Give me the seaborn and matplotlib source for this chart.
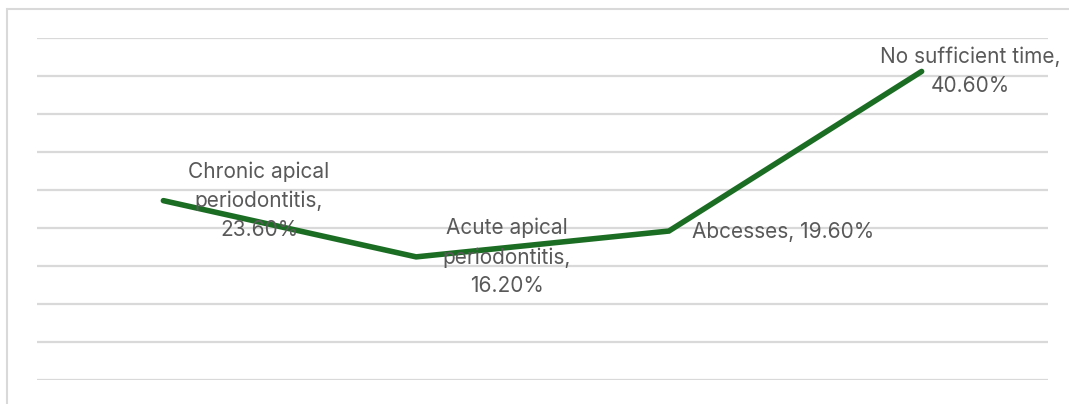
import matplotlib
matplotlib.use("Agg")
import matplotlib.pyplot as plt
import seaborn as sns
import pandas as pd
from matplotlib.patches import Rectangle

categories = ["Chronic apical\nperiodontitis", "Acute apical\nperiodontitis", "Abcesses", "No sufficient time"]
label_text = ["Chronic apical\nperiodontitis,\n23.60%", "Acute apical\nperiodontitis,\n16.20%",
              "Abcesses, 19.60%", "No sufficient time,\n40.60%"]
values = [23.6, 16.2, 19.6, 40.6]

df = pd.DataFrame({"pos": range(len(categories)), "category": categories, "value": values})

sns.set_theme(style="white")
plt.rcParams["font.family"] = ["Inter", "DejaVu Sans"]

fig = plt.figure(figsize=(10.69, 4.04), dpi=100)
fig.patch.set_facecolor("white")

# outer chart frame (top and left edges visible)
fig.patches.append(Rectangle((7 / 1069, -0.2), 1.2, (404 - 9) / 404 + 0.2,
                             transform=fig.transFigure, fill=False,
                             edgecolor="#d9d9d9", linewidth=1.5))

ax = fig.add_axes([37 / 1069, (404 - 380) / 404, (1048 - 37) / 1069, (380 - 38) / 404])
ax.set_facecolor("none")

sns.lineplot(data=df, x="pos", y="value", ax=ax, color="#1c6d24", linewidth=4,
             solid_capstyle="round", solid_joinstyle="miter", zorder=3)

ax.set_xlim(-0.5, len(categories) - 0.5)
ax.set_ylim(0, 45)
ax.set_yticks(range(0, 46, 5))
ax.yaxis.grid(True, color="#d9d9d9", linewidth=1.6)
ax.xaxis.grid(False)
ax.set_axisbelow(True)
ax.tick_params(left=False, bottom=False, labelleft=False, labelbottom=False)
ax.set_xlabel("")
ax.set_ylabel("")
for s in ax.spines.values():
    s.set_visible(False)

offsets = [(18, 0), (19, 0), (17, -1), (-30, 0)]
for i, (txt, v) in enumerate(zip(label_text, values)):
    ax.annotate(txt, xy=(i, v), xytext=offsets[i], textcoords="offset points",
                ha="left", va="center", multialignment="center",
                fontsize=15, color="#595959", linespacing=1.55, zorder=4,
                annotation_clip=False)

fig.savefig("out.png", dpi=100)
